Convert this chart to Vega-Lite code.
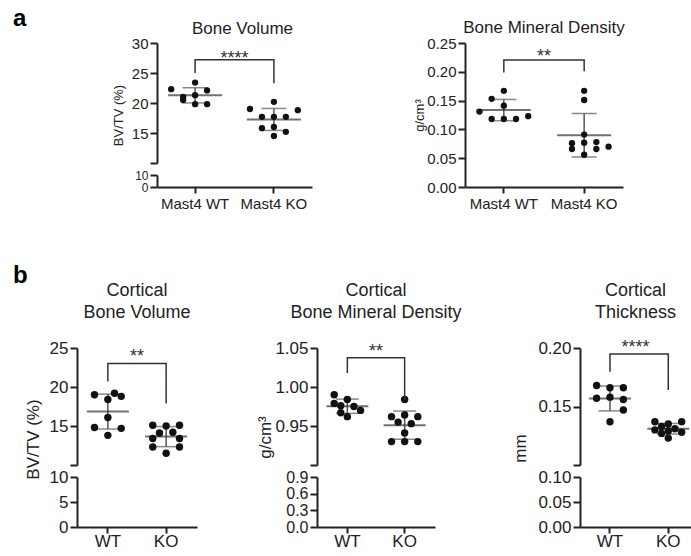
{
  "$schema": "https://vega.github.io/schema/vega-lite/v6.json",
  "padding": {"left": 0, "top": 7, "right": 0, "bottom": 0},
  "spacing": 53,
  "resolve": {"scale": {"xOffset": "independent"}},
  "datasets": {
    "a1": [
      {"g": "Mast4 WT", "v": 22.3, "slot": -2}, {"g": "Mast4 WT", "v": 23.4, "slot": 0}, {"g": "Mast4 WT", "v": 22.1, "slot": 1}, {"g": "Mast4 WT", "v": 21.0, "slot": -1},
      {"g": "Mast4 WT", "v": 21.3, "slot": 0}, {"g": "Mast4 WT", "v": 20.5, "slot": -1}, {"g": "Mast4 WT", "v": 19.8, "slot": 0}, {"g": "Mast4 WT", "v": 19.8, "slot": 1},
      {"g": "Mast4 KO", "v": 20.2, "slot": 0}, {"g": "Mast4 KO", "v": 19.0, "slot": -2}, {"g": "Mast4 KO", "v": 18.8, "slot": 2}, {"g": "Mast4 KO", "v": 17.7, "slot": -1},
      {"g": "Mast4 KO", "v": 17.7, "slot": 0}, {"g": "Mast4 KO", "v": 17.7, "slot": 1}, {"g": "Mast4 KO", "v": 15.8, "slot": -1}, {"g": "Mast4 KO", "v": 16.0, "slot": 0},
      {"g": "Mast4 KO", "v": 15.2, "slot": 1}, {"g": "Mast4 KO", "v": 14.5, "slot": 0}
    ],
    "a2": [
      {"g": "Mast4 WT", "v": 0.167, "slot": 0}, {"g": "Mast4 WT", "v": 0.153, "slot": -1}, {"g": "Mast4 WT", "v": 0.141, "slot": 0}, {"g": "Mast4 WT", "v": 0.131, "slot": -2},
      {"g": "Mast4 WT", "v": 0.123, "slot": 2}, {"g": "Mast4 WT", "v": 0.118, "slot": -1}, {"g": "Mast4 WT", "v": 0.118, "slot": 0}, {"g": "Mast4 WT", "v": 0.118, "slot": 1},
      {"g": "Mast4 KO", "v": 0.167, "slot": 0}, {"g": "Mast4 KO", "v": 0.151, "slot": 0}, {"g": "Mast4 KO", "v": 0.091, "slot": 0}, {"g": "Mast4 KO", "v": 0.076, "slot": -1},
      {"g": "Mast4 KO", "v": 0.077, "slot": 0}, {"g": "Mast4 KO", "v": 0.078, "slot": 1}, {"g": "Mast4 KO", "v": 0.070, "slot": 2}, {"g": "Mast4 KO", "v": 0.066, "slot": -1},
      {"g": "Mast4 KO", "v": 0.066, "slot": 1}, {"g": "Mast4 KO", "v": 0.056, "slot": 0}
    ],
    "b1": [
      {"g": "WT", "v": 19.0, "slot": -2}, {"g": "WT", "v": 19.2, "slot": 1}, {"g": "WT", "v": 18.8, "slot": 2}, {"g": "WT", "v": 18.4, "slot": 0},
      {"g": "WT", "v": 16.1, "slot": 0}, {"g": "WT", "v": 14.8, "slot": -2}, {"g": "WT", "v": 14.7, "slot": 2}, {"g": "WT", "v": 13.8, "slot": 0},
      {"g": "KO", "v": 15.1, "slot": -2}, {"g": "KO", "v": 15.0, "slot": 0}, {"g": "KO", "v": 15.1, "slot": 2}, {"g": "KO", "v": 14.1, "slot": -1},
      {"g": "KO", "v": 14.2, "slot": 1}, {"g": "KO", "v": 13.4, "slot": -2}, {"g": "KO", "v": 13.4, "slot": 2}, {"g": "KO", "v": 12.3, "slot": -2},
      {"g": "KO", "v": 12.3, "slot": 2}, {"g": "KO", "v": 11.5, "slot": 0}
    ],
    "b2": [
      {"g": "WT", "v": 0.990, "slot": -2}, {"g": "WT", "v": 0.984, "slot": 0}, {"g": "WT", "v": 0.979, "slot": -2}, {"g": "WT", "v": 0.976, "slot": -1},
      {"g": "WT", "v": 0.975, "slot": 1}, {"g": "WT", "v": 0.970, "slot": 2}, {"g": "WT", "v": 0.967, "slot": -1}, {"g": "WT", "v": 0.962, "slot": 0},
      {"g": "KO", "v": 0.984, "slot": 0}, {"g": "KO", "v": 0.962, "slot": -2}, {"g": "KO", "v": 0.964, "slot": 0}, {"g": "KO", "v": 0.962, "slot": 2},
      {"g": "KO", "v": 0.955, "slot": -1}, {"g": "KO", "v": 0.953, "slot": 1}, {"g": "KO", "v": 0.941, "slot": 0}, {"g": "KO", "v": 0.930, "slot": -2},
      {"g": "KO", "v": 0.930, "slot": 0}, {"g": "KO", "v": 0.930, "slot": 2}
    ],
    "b3": [
      {"g": "WT", "v": 0.168, "slot": -2}, {"g": "WT", "v": 0.166, "slot": 0}, {"g": "WT", "v": 0.166, "slot": 2}, {"g": "WT", "v": 0.157, "slot": -2},
      {"g": "WT", "v": 0.158, "slot": 0}, {"g": "WT", "v": 0.156, "slot": 2}, {"g": "WT", "v": 0.147, "slot": 2}, {"g": "WT", "v": 0.137, "slot": 0},
      {"g": "KO", "v": 0.137, "slot": -2}, {"g": "KO", "v": 0.135, "slot": 0}, {"g": "KO", "v": 0.137, "slot": 2}, {"g": "KO", "v": 0.133, "slot": -1},
      {"g": "KO", "v": 0.131, "slot": 1}, {"g": "KO", "v": 0.130, "slot": -2}, {"g": "KO", "v": 0.129, "slot": 0}, {"g": "KO", "v": 0.128, "slot": 2},
      {"g": "KO", "v": 0.127, "slot": -1}, {"g": "KO", "v": 0.123, "slot": 0}
    ],
    "br_a1": [{"g": "Mast4 WT", "v": 25, "o": 1}, {"g": "Mast4 WT", "v": 27.2, "o": 2}, {"g": "Mast4 KO", "v": 27.2, "o": 3}, {"g": "Mast4 KO", "v": 23.3, "o": 4}],
    "br_a2": [{"g": "Mast4 WT", "v": 0.199, "o": 1}, {"g": "Mast4 WT", "v": 0.2205, "o": 2}, {"g": "Mast4 KO", "v": 0.2205, "o": 3}, {"g": "Mast4 KO", "v": 0.201, "o": 4}],
    "br_b1": [{"g": "WT", "v": 20.7, "o": 1}, {"g": "WT", "v": 23.0, "o": 2}, {"g": "KO", "v": 23.0, "o": 3}, {"g": "KO", "v": 17.9, "o": 4}],
    "br_b2": [{"g": "WT", "v": 1.018, "o": 1}, {"g": "WT", "v": 1.0375, "o": 2}, {"g": "KO", "v": 1.0375, "o": 3}, {"g": "KO", "v": 0.9836, "o": 4}],
    "br_b3": [{"g": "WT", "v": 0.1797, "o": 1}, {"g": "WT", "v": 0.1949, "o": 2}, {"g": "KO", "v": 0.1949, "o": 3}, {"g": "KO", "v": 0.164, "o": 4}],
    "st_a1": [{"label": "****", "v": 27.3}],
    "st_a2": [{"label": "**", "v": 0.2255}],
    "st_b1": [{"label": "**", "v": 23.8}],
    "st_b2": [{"label": "**", "v": 1.045}],
    "st_b3": [{"label": "****", "v": 0.2}]
  },
  "vconcat": [
    {
      "hconcat": [
        {
          "concat": [
            {"width": 4, "height": 120, "data": {"values": []}, "mark": "point",
             "title": {"text": "a", "anchor": "start", "fontSize": 24, "fontWeight": "bold", "color": "#000", "offset": 12, "dx": 13}},
            {
              "width": 155, "height": 120,
              "title": {"text": "Bone Volume", "fontSize": 17, "offset": -2, "dx": 8},
              "encoding": {"y": {"field": "v", "type": "quantitative", "title": "BV/TV (%)", "scale": {"domain": [10, 30], "nice": false, "zero": false},
                                 "axis": {"title": "BV/TV (%)", "titleFontSize": 13, "titleY": 72, "titlePadding": 6, "values": [10, 15, 20, 25, 30], "labelExpr": "datum.value == 10 ? '' : datum.label", "labelFontSize": 15}}},
              "layer": [
                {"data": {"name": "a1"}, "mark": {"type": "errorbar", "extent": "stdev", "ticks": true, "size": 25, "thickness": 1.5, "color": "#555"},
                 "encoding": {"x": {"field": "g", "type": "nominal", "title": null, "scale": {"type": "band", "domain": ["Mast4 WT", "Mast4 KO"], "paddingInner": 0.393, "paddingOuter": 0.18}, "axis": null}}},
                {"data": {"name": "a1"}, "transform": [{"aggregate": [{"op": "mean", "field": "v", "as": "v"}], "groupby": ["g"]}],
                 "mark": {"type": "tick", "size": 54, "thickness": 2, "color": "#333"},
                 "encoding": {"x": {"field": "g", "type": "nominal", "title": null, "scale": {"type": "band", "domain": ["Mast4 WT", "Mast4 KO"], "paddingInner": 0.393, "paddingOuter": 0.18}, "axis": null}}},
                {"data": {"name": "a1"}, "mark": {"type": "point", "filled": true, "size": 40, "color": "#111", "opacity": 1},
                 "encoding": {"x": {"field": "g", "type": "nominal", "title": null, "scale": {"type": "band", "domain": ["Mast4 WT", "Mast4 KO"], "paddingInner": 0.393, "paddingOuter": 0.18}, "axis": null},
                              "xOffset": {"field": "slot", "type": "ordinal", "scale": {"domain": [-2, -1, 0, 1, 2], "paddingInner": 0, "paddingOuter": 0}}}},
                {"data": {"name": "br_a1"}, "mark": {"type": "line", "color": "#333", "strokeWidth": 1.5},
                 "encoding": {"x": {"field": "g", "type": "nominal", "title": null, "scale": {"type": "band", "domain": ["Mast4 WT", "Mast4 KO"], "paddingInner": 0.393, "paddingOuter": 0.18}, "axis": null},
                              "order": {"field": "o", "type": "quantitative"}}},
                {"data": {"name": "st_a1"}, "mark": {"type": "text", "fontSize": 18, "color": "#333", "baseline": "middle"},
                 "encoding": {"text": {"field": "label", "type": "nominal"}}}
              ]
            },
            {"width": 4, "height": 12, "data": {"values": []}, "mark": "point"},
            {
              "width": 155, "height": 12,
              "data": {"name": "a1"},
              "mark": {"type": "point", "opacity": 0, "clip": true},
              "encoding": {
                "x": {"field": "g", "type": "nominal", "scale": {"type": "band", "domain": ["Mast4 WT", "Mast4 KO"], "paddingInner": 0.393, "paddingOuter": 0.18},
                      "axis": {"title": null, "labelAngle": 0, "labelAlign": "center", "labelBaseline": "top", "labelFontSize": 15, "tickSize": 6, "labelPadding": 3}},
                "y": {"field": "v", "type": "quantitative", "scale": {"domain": [0, 10], "nice": false, "zero": false},
                      "axis": {"title": null, "values": [0, 10], "labelFontSize": 12}}
              }
            }
          ],
          "columns": 2,
          "align": "none",
          "bounds": "flush",
          "spacing": {"row": 12, "column": 153},
          "resolve": {"scale": {"xOffset": "independent"}}
        },
        {
          "width": 158, "height": 144,
          "title": {"text": "Bone Mineral Density", "fontSize": 17, "offset": -1},
          "encoding": {"y": {"field": "v", "type": "quantitative", "title": "g/cm³", "scale": {"domain": [0, 0.25], "nice": false, "zero": false},
                             "axis": {"title": "g/cm³", "titleFontSize": 13, "titlePadding": 0, "values": [0, 0.05, 0.1, 0.15, 0.2, 0.25], "format": ".2f", "labelFontSize": 15}}},
          "layer": [
            {"data": {"name": "a2"}, "mark": {"type": "errorbar", "extent": "stdev", "ticks": true, "size": 25, "thickness": 1.5, "color": "#555"},
             "encoding": {"x": {"field": "g", "type": "nominal", "title": null, "scale": {"type": "band", "domain": ["Mast4 WT", "Mast4 KO"], "paddingInner": 0.393, "paddingOuter": 0.18},
                                "axis": {"title": null, "labelAngle": 0, "labelAlign": "center", "labelBaseline": "top", "labelFontSize": 15, "tickSize": 6, "labelPadding": 3}}}},
            {"data": {"name": "a2"}, "transform": [{"aggregate": [{"op": "mean", "field": "v", "as": "v"}], "groupby": ["g"]}],
             "mark": {"type": "tick", "size": 54, "thickness": 2, "color": "#333"},
             "encoding": {"x": {"field": "g", "type": "nominal", "title": null, "scale": {"type": "band", "domain": ["Mast4 WT", "Mast4 KO"], "paddingInner": 0.393, "paddingOuter": 0.18},
                                "axis": {"title": null, "labelAngle": 0, "labelAlign": "center", "labelBaseline": "top", "labelFontSize": 15, "tickSize": 6, "labelPadding": 3}}}},
            {"data": {"name": "a2"}, "mark": {"type": "point", "filled": true, "size": 40, "color": "#111", "opacity": 1},
             "encoding": {"x": {"field": "g", "type": "nominal", "title": null, "scale": {"type": "band", "domain": ["Mast4 WT", "Mast4 KO"], "paddingInner": 0.393, "paddingOuter": 0.18},
                                "axis": {"title": null, "labelAngle": 0, "labelAlign": "center", "labelBaseline": "top", "labelFontSize": 15, "tickSize": 6, "labelPadding": 3}},
                          "xOffset": {"field": "slot", "type": "ordinal", "scale": {"domain": [-2, -1, 0, 1, 2], "paddingInner": 0, "paddingOuter": 0}}}},
            {"data": {"name": "br_a2"}, "mark": {"type": "line", "color": "#333", "strokeWidth": 1.5},
             "encoding": {"x": {"field": "g", "type": "nominal", "title": null, "scale": {"type": "band", "domain": ["Mast4 WT", "Mast4 KO"], "paddingInner": 0.393, "paddingOuter": 0.18},
                                "axis": {"title": null, "labelAngle": 0, "labelAlign": "center", "labelBaseline": "top", "labelFontSize": 15, "tickSize": 6, "labelPadding": 3}},
                          "order": {"field": "o", "type": "quantitative"}}},
            {"data": {"name": "st_a2"}, "mark": {"type": "text", "fontSize": 18, "color": "#333", "baseline": "middle"},
             "encoding": {"text": {"field": "label", "type": "nominal"}}}
          ]
        }
      ],
      "spacing": 101,
      "resolve": {"scale": {"xOffset": "independent"}}
    },
    {
      "concat": [
        {"width": 77, "height": 117, "data": {"values": []}, "mark": "point",
         "title": {"text": "b", "anchor": "start", "fontSize": 24, "fontWeight": "bold", "color": "#000", "offset": 60, "dx": 13}},
        {
          "width": 120, "height": 117,
          "title": {"text": ["Cortical", "Bone Volume"], "fontSize": 18, "lineHeight": 22, "offset": 17},
          "encoding": {"y": {"field": "v", "type": "quantitative", "title": "BV/TV (%)", "scale": {"domain": [10, 25], "nice": false, "zero": false},
                             "axis": {"title": "BV/TV (%)", "titleFontSize": 17, "titleY": 91, "titlePadding": 7, "values": [10, 15, 20, 25], "labelExpr": "datum.value == 10 ? '' : datum.label", "labelFontSize": 17}}},
          "layer": [
            {"data": {"name": "b1"}, "mark": {"type": "errorbar", "extent": "stdev", "ticks": true, "size": 23, "thickness": 1.5, "color": "#555"},
             "encoding": {"x": {"field": "g", "type": "nominal", "title": null, "scale": {"type": "band", "domain": ["WT", "KO"], "paddingInner": 0.541, "paddingOuter": 0.3}, "axis": null}}},
            {"data": {"name": "b1"}, "transform": [{"aggregate": [{"op": "mean", "field": "v", "as": "v"}], "groupby": ["g"]}],
             "mark": {"type": "tick", "size": 42, "thickness": 2, "color": "#333"},
             "encoding": {"x": {"field": "g", "type": "nominal", "title": null, "scale": {"type": "band", "domain": ["WT", "KO"], "paddingInner": 0.541, "paddingOuter": 0.3}, "axis": null}}},
            {"data": {"name": "b1"}, "mark": {"type": "point", "filled": true, "size": 55, "color": "#111", "opacity": 1},
             "encoding": {"x": {"field": "g", "type": "nominal", "title": null, "scale": {"type": "band", "domain": ["WT", "KO"], "paddingInner": 0.541, "paddingOuter": 0.3}, "axis": null},
                          "xOffset": {"field": "slot", "type": "ordinal", "scale": {"domain": [-2, -1, 0, 1, 2], "paddingInner": 0, "paddingOuter": 0}}}},
            {"data": {"name": "br_b1"}, "mark": {"type": "line", "color": "#333", "strokeWidth": 1.5},
             "encoding": {"x": {"field": "g", "type": "nominal", "title": null, "scale": {"type": "band", "domain": ["WT", "KO"], "paddingInner": 0.541, "paddingOuter": 0.3}, "axis": null},
                          "order": {"field": "o", "type": "quantitative"}}},
            {"data": {"name": "st_b1"}, "mark": {"type": "text", "fontSize": 18, "color": "#333", "baseline": "middle"},
             "encoding": {"text": {"field": "label", "type": "nominal"}}}
          ]
        },
        {"width": 120, "height": 1, "data": {"values": []}, "mark": "point"},
        {
          "width": 118, "height": 117,
          "title": {"text": ["Cortical", "Bone Mineral Density"], "fontSize": 18, "lineHeight": 22, "offset": 17},
          "encoding": {"y": {"field": "v", "type": "quantitative", "title": "g/cm³", "scale": {"domain": [0.9, 1.05], "nice": false, "zero": false},
                             "axis": {"title": "g/cm³", "titleFontSize": 17, "titleY": 89, "titlePadding": 0, "values": [0.9, 0.95, 1, 1.05], "format": ".2f", "labelExpr": "datum.value <= 0.9 ? '' : datum.label", "labelFontSize": 17}}},
          "layer": [
            {"data": {"name": "b2"}, "mark": {"type": "errorbar", "extent": "stdev", "ticks": true, "size": 23, "thickness": 1.5, "color": "#555"},
             "encoding": {"x": {"field": "g", "type": "nominal", "title": null, "scale": {"type": "band", "domain": ["WT", "KO"], "paddingInner": 0.541, "paddingOuter": 0.3}, "axis": null}}},
            {"data": {"name": "b2"}, "transform": [{"aggregate": [{"op": "mean", "field": "v", "as": "v"}], "groupby": ["g"]}],
             "mark": {"type": "tick", "size": 42, "thickness": 2, "color": "#333"},
             "encoding": {"x": {"field": "g", "type": "nominal", "title": null, "scale": {"type": "band", "domain": ["WT", "KO"], "paddingInner": 0.541, "paddingOuter": 0.3}, "axis": null}}},
            {"data": {"name": "b2"}, "mark": {"type": "point", "filled": true, "size": 55, "color": "#111", "opacity": 1},
             "encoding": {"x": {"field": "g", "type": "nominal", "title": null, "scale": {"type": "band", "domain": ["WT", "KO"], "paddingInner": 0.541, "paddingOuter": 0.3}, "axis": null},
                          "xOffset": {"field": "slot", "type": "ordinal", "scale": {"domain": [-2, -1, 0, 1, 2], "paddingInner": 0, "paddingOuter": 0}}}},
            {"data": {"name": "br_b2"}, "mark": {"type": "line", "color": "#333", "strokeWidth": 1.5},
             "encoding": {"x": {"field": "g", "type": "nominal", "title": null, "scale": {"type": "band", "domain": ["WT", "KO"], "paddingInner": 0.541, "paddingOuter": 0.3}, "axis": null},
                          "order": {"field": "o", "type": "quantitative"}}},
            {"data": {"name": "st_b2"}, "mark": {"type": "text", "fontSize": 18, "color": "#333", "baseline": "middle"},
             "encoding": {"text": {"field": "label", "type": "nominal"}}}
          ]
        },
        {"width": 145, "height": 1, "data": {"values": []}, "mark": "point"},
        {
          "width": 111, "height": 117,
          "title": {"text": ["Cortical", "Thickness"], "fontSize": 18, "lineHeight": 22, "offset": 17},
          "encoding": {"y": {"field": "v", "type": "quantitative", "title": "mm", "scale": {"domain": [0.1, 0.2], "nice": false, "zero": false},
                             "axis": {"title": "mm", "titleFontSize": 17, "titleY": 100, "titlePadding": 8, "values": [0.1, 0.15, 0.2], "format": ".2f", "labelExpr": "datum.value <= 0.1 ? '' : datum.label", "labelFontSize": 17}}},
          "layer": [
            {"data": {"name": "b3"}, "mark": {"type": "errorbar", "extent": "stdev", "ticks": true, "size": 23, "thickness": 1.5, "color": "#555"},
             "encoding": {"x": {"field": "g", "type": "nominal", "title": null, "scale": {"type": "band", "domain": ["WT", "KO"], "paddingInner": 0.541, "paddingOuter": 0.2225, "align": 0.64}, "axis": null}}},
            {"data": {"name": "b3"}, "transform": [{"aggregate": [{"op": "mean", "field": "v", "as": "v"}], "groupby": ["g"]}],
             "mark": {"type": "tick", "size": 42, "thickness": 2, "color": "#333"},
             "encoding": {"x": {"field": "g", "type": "nominal", "title": null, "scale": {"type": "band", "domain": ["WT", "KO"], "paddingInner": 0.541, "paddingOuter": 0.2225, "align": 0.64}, "axis": null}}},
            {"data": {"name": "b3"}, "mark": {"type": "point", "filled": true, "size": 55, "color": "#111", "opacity": 1},
             "encoding": {"x": {"field": "g", "type": "nominal", "title": null, "scale": {"type": "band", "domain": ["WT", "KO"], "paddingInner": 0.541, "paddingOuter": 0.2225, "align": 0.64}, "axis": null},
                          "xOffset": {"field": "slot", "type": "ordinal", "scale": {"domain": [-2, -1, 0, 1, 2], "paddingInner": 0, "paddingOuter": 0}}}},
            {"data": {"name": "br_b3"}, "mark": {"type": "line", "color": "#333", "strokeWidth": 1.5},
             "encoding": {"x": {"field": "g", "type": "nominal", "title": null, "scale": {"type": "band", "domain": ["WT", "KO"], "paddingInner": 0.541, "paddingOuter": 0.2225, "align": 0.64}, "axis": null},
                          "order": {"field": "o", "type": "quantitative"}}},
            {"data": {"name": "st_b3"}, "mark": {"type": "text", "fontSize": 18, "color": "#333", "baseline": "middle"},
             "encoding": {"text": {"field": "label", "type": "nominal"}}}
          ]
        },
        {"width": 77, "height": 1, "data": {"values": []}, "mark": "point"},
        {
          "width": 120, "height": 50,
          "data": {"name": "b1"},
          "mark": {"type": "point", "opacity": 0, "clip": true},
          "encoding": {
            "x": {"field": "g", "type": "nominal", "scale": {"type": "band", "domain": ["WT", "KO"], "paddingInner": 0.541, "paddingOuter": 0.3},
                  "axis": {"title": null, "labelAngle": 0, "labelAlign": "center", "labelBaseline": "top", "labelFontSize": 17, "tickSize": 6, "labelPadding": 0}},
            "y": {"field": "v", "type": "quantitative", "scale": {"domain": [0, 10], "nice": false, "zero": false},
                  "axis": {"title": null, "values": [0, 5, 10], "labelFontSize": 17}}
          }
        },
        {"width": 120, "height": 1, "data": {"values": []}, "mark": "point"},
        {
          "width": 118, "height": 50,
          "data": {"name": "b2"},
          "mark": {"type": "point", "opacity": 0, "clip": true},
          "encoding": {
            "x": {"field": "g", "type": "nominal", "scale": {"type": "band", "domain": ["WT", "KO"], "paddingInner": 0.541, "paddingOuter": 0.3},
                  "axis": {"title": null, "labelAngle": 0, "labelAlign": "center", "labelBaseline": "top", "labelFontSize": 17, "tickSize": 6, "labelPadding": 0}},
            "y": {"field": "v", "type": "quantitative", "scale": {"domain": [0, 0.9], "nice": false, "zero": false},
                  "axis": {"title": null, "values": [0, 0.3, 0.6, 0.9], "format": ".1f", "labelFontSize": 16}}
          }
        },
        {"width": 145, "height": 1, "data": {"values": []}, "mark": "point"},
        {
          "width": 111, "height": 50,
          "data": {"name": "b3"},
          "mark": {"type": "point", "opacity": 0, "clip": true},
          "encoding": {
            "x": {"field": "g", "type": "nominal", "scale": {"type": "band", "domain": ["WT", "KO"], "paddingInner": 0.541, "paddingOuter": 0.2225, "align": 0.64},
                  "axis": {"title": null, "labelAngle": 0, "labelAlign": "center", "labelBaseline": "top", "labelFontSize": 17, "tickSize": 6, "labelPadding": 0}},
            "y": {"field": "v", "type": "quantitative", "scale": {"domain": [0, 0.1], "nice": false, "zero": false},
                  "axis": {"title": null, "values": [0, 0.05, 0.1], "format": ".2f", "labelFontSize": 17}}
          }
        }
      ],
      "columns": 6,
      "align": "none",
      "bounds": "flush",
      "spacing": {"row": 12, "column": 0},
      "resolve": {"scale": {"xOffset": "independent"}}
    }
  ],
  "config": {
    "font": "Liberation Sans",
    "view": {"stroke": null},
    "title": {"fontWeight": "normal", "color": "#222", "frame": "group", "font": "Liberation Sans"},
    "axis": {"domainColor": "#222", "domainWidth": 2, "tickColor": "#222", "tickWidth": 2, "labelColor": "#222", "titleColor": "#222",
             "titleFontWeight": "normal", "grid": false, "labelOverlap": false, "labelFlush": false, "tickSize": 7, "labelPadding": 2,
             "labelFont": "Liberation Sans", "titleFont": "Liberation Sans"}
  }
}
